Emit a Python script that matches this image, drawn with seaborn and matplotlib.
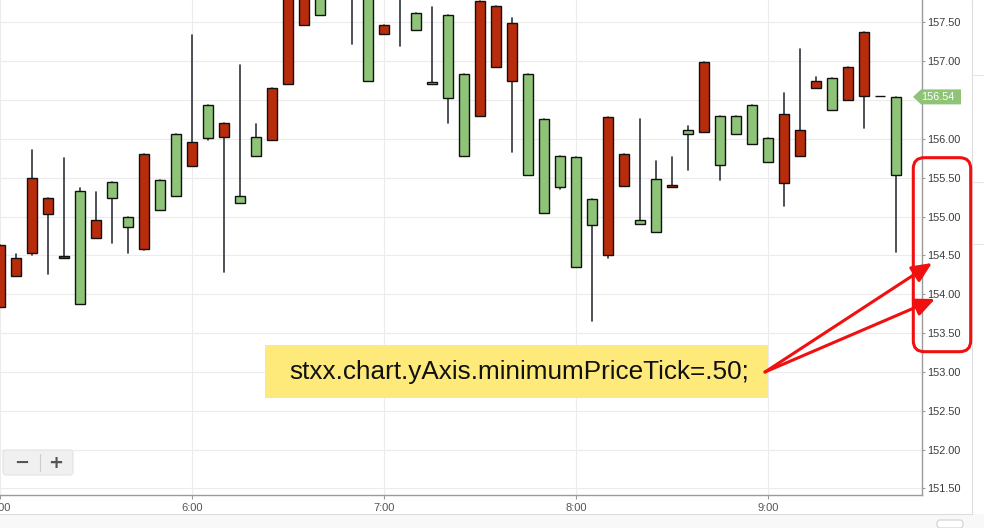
import numpy as np
import pandas as pd
import matplotlib
matplotlib.use("Agg")
import matplotlib.pyplot as plt
import seaborn as sns
from matplotlib.patches import FancyBboxPatch, Polygon, FancyArrowPatch, Rectangle
from matplotlib.lines import Line2D
from matplotlib.transforms import IdentityTransform

# ---------------- data (5-minute candles from 5:00) ----------------
hour_labels = ["5:00", "6:00", "7:00", "8:00", "9:00"]
opens = [154.63, 154.46, 155.49, 155.24, 154.49, 153.88, 154.96, 155.24, 154.87, 155.80,
         155.09, 155.27, 155.96, 156.01, 156.20, 155.17, 155.78, 156.65, 158.10, 158.20,
         157.60, 157.95, 158.20, 156.75, 157.47, 158.00, 157.40, 156.70, 156.53, 155.78,
         157.77, 157.71, 157.49, 155.53, 155.05, 155.38, 154.35, 154.89, 156.28, 155.80,
         154.90, 154.80, 155.40, 156.06, 156.99, 155.66, 156.06, 155.93, 155.70, 156.32,
         156.12, 156.75, 156.37, 156.93, 157.38, 156.55, 155.53]
highs = [154.63, 154.52, 155.86, 155.24, 155.75, 155.37, 155.32, 155.45, 154.99, 155.80,
         155.47, 156.06, 157.34, 156.44, 156.20, 156.95, 156.19, 156.65, 158.10, 158.20,
         158.00, 158.40, 158.30, 158.10, 157.47, 158.10, 157.62, 157.70, 157.60, 156.84,
         157.77, 157.71, 157.56, 156.83, 156.25, 155.78, 155.76, 155.22, 156.28, 155.80,
         156.26, 155.71, 155.77, 156.17, 156.99, 156.29, 156.29, 156.43, 156.01, 156.59,
         157.16, 156.80, 156.78, 156.93, 157.38, 156.55, 156.54]
lows = [153.84, 154.24, 154.51, 154.26, 154.46, 153.88, 154.72, 154.66, 154.53, 154.57,
        155.09, 155.27, 155.65, 155.99, 154.29, 155.17, 155.78, 155.98, 156.70, 157.47,
        157.60, 157.90, 157.22, 156.75, 157.35, 157.20, 157.40, 156.70, 156.20, 155.78,
        156.29, 156.92, 155.83, 155.53, 155.05, 155.36, 154.35, 153.65, 154.46, 155.39,
        154.90, 154.80, 155.38, 155.60, 156.09, 155.47, 156.06, 155.93, 155.70, 155.14,
        155.78, 156.65, 156.37, 156.50, 156.14, 156.55, 154.55]
closes = [153.84, 154.24, 154.53, 155.03, 154.46, 155.33, 154.72, 155.45, 154.99, 154.58,
          155.47, 156.06, 155.65, 156.44, 156.02, 155.26, 156.02, 155.99, 156.70, 157.47,
          158.00, 158.30, 157.90, 158.10, 157.35, 157.85, 157.62, 156.73, 157.60, 156.84,
          156.29, 156.92, 156.75, 156.83, 156.25, 155.78, 155.76, 155.22, 154.51, 155.39,
          154.95, 155.48, 155.38, 156.11, 156.09, 156.29, 156.29, 156.43, 156.01, 155.43,
          155.78, 156.65, 156.78, 156.50, 156.55, 156.55, 156.54]
y_ticks = [151.50, 152.00, 152.50, 153.00, 153.50, 154.00, 154.50, 155.00,
           155.50, 156.00, 156.50, 157.00, 157.50]
annotation_text = "stxx.chart.yAxis.minimumPriceTick=.50;"

UP = "#8ec378"
DOWN = "#b82c0c"
WICK = "#2f3439"

W, H = 984, 528
sns.set_theme(style="white")
plt.rcParams["font.family"] = ["Liberation Sans", "DejaVu Sans"]

fig = plt.figure(figsize=(W / 100, H / 100), dpi=100)
fig.patch.set_facecolor("white")

# axes: x 0..921.7 px, y (top) 0..495 px
ax = fig.add_axes([0, 33 / H, 921.7 / W, 495 / H])
ax.set_facecolor("white")

n = len(opens)
xs = np.arange(n)
df = pd.DataFrame({"i": xs, "open": opens, "high": highs, "low": lows, "close": closes})

# wicks through seaborn
wick_df = pd.concat([
    pd.DataFrame({"x": xs, "price": lows, "candle": xs}),
    pd.DataFrame({"x": xs, "price": highs, "candle": xs}),
]).sort_values(["candle", "price"])
sns.lineplot(data=wick_df, x="x", y="price", units="candle", estimator=None,
             sort=False, color=WICK, lw=1.2, legend=False, ax=ax, zorder=2)

# bodies
body_bottom = np.minimum(df["open"], df["close"])
body_height = np.abs(df["close"] - df["open"])
body_colors = [UP if c >= o else DOWN for o, c in zip(opens, closes)]
ax.bar(xs, body_height, bottom=body_bottom, width=0.62, color=body_colors,
       edgecolor="#111111", linewidth=1.0, zorder=3)

ax.set_xlim(-0.02, 57.59)
ax.set_ylim(151.416, 157.787)
ax.set_xlabel("")
ax.set_ylabel("")

last = closes[-1]

# ticks (the label hidden behind the last-price tag is left blank)
ax.yaxis.tick_right()
ax.set_yticks(y_ticks)
ax.set_yticklabels(["" if abs(v - last) < 0.2 else f"{v:.2f}" for v in y_ticks])
ax.set_xticks([0, 12, 24, 36, 48])
ax.set_xticklabels(hour_labels)
ax.tick_params(axis="y", right=True, left=False, length=2.3, width=0.8, color="#9a9a9a",
               pad=1.6, labelsize=7.8, labelcolor="#3a3a3a")
ax.tick_params(axis="x", bottom=True, length=2.8, width=0.8, color="#9a9a9a",
               pad=3.2, labelsize=8, labelcolor="#555555")

ax.grid(True, color="#ececec", lw=0.8)
ax.set_axisbelow(True)
for s in ["top", "left"]:
    ax.spines[s].set_visible(False)
for s in ["right", "bottom"]:
    ax.spines[s].set_color("#9a9a9a")
    ax.spines[s].set_linewidth(1.0)

# ---------- helpers in pixel coords (top-left origin) ----------
def P(x, y):
    return (x, H - y)

ident = IdentityTransform()

# bottom strip and right panel
fig.add_artist(Rectangle(P(0, 528), W, 14, transform=ident, fc="#f8f8f8", ec="none", zorder=0))
fig.add_artist(Line2D([0, 971.5], [H - 514, H - 514], transform=ident, color="#dddddd", lw=0.8))
fig.add_artist(Line2D([971.5, 971.5], [H - 514, H], transform=ident, color="#dddddd", lw=0.8))
for yy in [75, 182, 244]:
    fig.add_artist(Line2D([971.5, 984], [H - yy, H - yy], transform=ident, color="#e6e6e6", lw=0.8))
fig.add_artist(FancyBboxPatch(P(937, 528), 26, 8, boxstyle="round,pad=0,rounding_size=3",
                              transform=ident, fc="white", ec="#d0d0d0", lw=0.8))

# price tag for last close
fig.canvas.draw()
ty = ax.transData.transform((0, last))[1]
tag = Polygon([(913, ty), (921, ty + 7.5), (961, ty + 7.5), (961, ty - 7.5), (921, ty - 7.5)],
              closed=True, transform=ident, fc=UP, ec="none", zorder=5)
fig.add_artist(tag)
fig.text(938, ty, f"{last:.2f}", transform=ident, color="white", fontsize=7.8,
         ha="center", va="center", zorder=6)

# red rounded rectangle
fig.add_artist(FancyBboxPatch(P(913.3, 351.7), 57.4, 194, boxstyle="round,pad=0,rounding_size=11",
                              transform=ident, fc="none", ec="#f01010", lw=2.2, zorder=7))

# yellow annotation box
fig.add_artist(Rectangle(P(265, 398), 503, 53, transform=ident, fc="#fdea7b", ec="none", zorder=6))
fig.text(289, H - 378.5, annotation_text, transform=ident, fontsize=18.8, color="#111111",
         ha="left", va="baseline", zorder=7, family=["Liberation Sans", "DejaVu Sans"])

# red arrows
for tip in [(932, 263), (935, 299)]:
    arr = FancyArrowPatch(P(765, 372), P(*tip), transform=ident,
                          arrowstyle="-|>,head_length=1.0,head_width=0.45", mutation_scale=12,
                          color="#f01010", lw=2.2, shrinkA=0, shrinkB=0, zorder=8)
    fig.add_artist(arr)

# zoom buttons
fig.add_artist(FancyBboxPatch(P(3, 475), 70, 25, boxstyle="round,pad=0,rounding_size=3",
                              transform=ident, fc="#f0f0f0", ec="#e2e2e2", lw=0.8, zorder=6))
fig.add_artist(Line2D([40, 40], [H - 471, H - 454], transform=ident, color="#cccccc", lw=0.8, zorder=7))
fig.text(21.5, H - 462.5, "\u2212", transform=ident, fontsize=13, fontweight="bold", color="#555555",
         ha="center", va="center", zorder=7, family=["DejaVu Sans"])
fig.text(56, H - 462.5, "+", transform=ident, fontsize=13, fontweight="bold", color="#555555",
         ha="center", va="center", zorder=7, family=["DejaVu Sans"])

fig.savefig("out.png", dpi=100)
